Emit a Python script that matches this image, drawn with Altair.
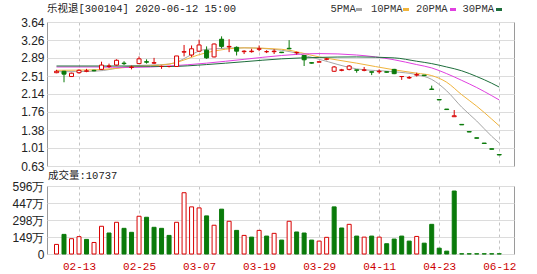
import json
import altair as alt
import pandas as pd

# ---------------- data ----------------
title_text = "乐视退[300104] 2020-06-12 15:00"
vol_title = "成交量:10737"

opens = [2.58, 2.61, 2.50, 2.58, 2.61, 2.63, 2.65, 2.71, 2.74, 2.78, 2.69, 2.77, 2.81, 2.78, 2.71, 2.71, 2.71, 3.01, 2.95, 3.03,
         3.05, 2.91, 3.28, 3.12, 3.11, 3.02, 3.02, 3.07, 3.02, 3.02, 3.01, 3.09, 3.00, 2.94, 2.79, 2.80, 2.86, 2.61, 2.63, 2.65,
         2.64, 2.63, 2.60, 2.60, 2.60, 2.65, 2.50, 2.47, 2.53, 2.53, 2.24, 2.02, 1.82, 1.66, 1.50, 1.35, 1.22, 1.11, 0.99, 0.87]
closes = [2.61, 2.55, 2.57, 2.63, 2.62, 2.62, 2.74, 2.72, 2.84, 2.77, 2.70, 2.87, 2.80, 2.79, 2.71, 2.71, 2.93, 3.02, 3.08, 3.16,
          2.89, 3.18, 3.13, 3.13, 3.03, 3.03, 3.03, 3.08, 3.02, 3.03, 3.00, 3.08, 3.00, 2.85, 2.78, 2.81, 2.87, 2.70, 2.64, 2.72,
          2.63, 2.64, 2.59, 2.61, 2.59, 2.56, 2.50, 2.48, 2.54, 2.52, 2.23, 2.01, 1.81, 1.68, 1.49, 1.34, 1.21, 1.10, 0.98, 0.86]
highs = [2.64, 2.62, 2.58, 2.65, 2.66, 2.64, 2.81, 2.77, 2.86, 2.82, 2.73, 2.92, 2.86, 2.89, 2.73, 2.72, 2.93, 3.16, 3.15, 3.27,
         3.13, 3.19, 3.34, 3.28, 3.13, 3.05, 3.08, 3.15, 3.05, 3.07, 3.01, 3.26, 3.02, 2.95, 2.80, 2.81, 2.89, 2.72, 2.66, 2.74,
         2.64, 2.70, 2.60, 2.65, 2.60, 2.66, 2.51, 2.51, 2.58, 2.53, 2.31, 2.02, 1.82, 1.80, 1.50, 1.35, 1.22, 1.11, 0.99, 0.87]
lows = [2.57, 2.38, 2.49, 2.56, 2.59, 2.61, 2.64, 2.68, 2.73, 2.74, 2.65, 2.76, 2.77, 2.76, 2.66, 2.69, 2.70, 2.92, 2.91, 3.02,
        2.87, 2.90, 3.09, 3.01, 2.94, 2.97, 3.00, 3.03, 2.99, 2.97, 2.99, 3.07, 2.96, 2.72, 2.77, 2.80, 2.84, 2.60, 2.61, 2.63,
        2.58, 2.61, 2.53, 2.56, 2.58, 2.55, 2.43, 2.45, 2.50, 2.51, 2.23, 2.01, 1.81, 1.66, 1.49, 1.34, 1.21, 1.10, 0.98, 0.86]

# volume in 万 shares
volumes = [84, 172, 134, 152, 128, 101, 243, 184, 278, 225, 190, 331, 322, 234, 225, 163, 278, 537, 413, 404,
           334, 252, 393, 287, 207, 163, 148, 207, 157, 181, 122, 287, 193, 184, 122, 113, 146, 413, 228, 260,
           157, 148, 157, 148, 90, 131, 157, 113, 154, 95, 260, 51, 25, 552, 2, 2, 2, 2, 2, 2]
vol_up = [1, 0, 1, 1, 0, 1, 1, 0, 1, 0, 0, 1, 0, 0, 0, 0, 1, 1, 1, 1,
          0, 1, 0, 1, 0, 1, 0, 1, 0, 1, 0, 1, 0, 0, 0, 1, 1, 0, 0, 1,
          0, 1, 0, 1, 0, 0, 0, 0, 1, 0, 0, 0, 0, 0, 0, 0, 0, 0, 0, 0]

tick_idx = [3, 11, 19, 27, 35, 43, 51, 59]
tick_labels = ["02-13", "02-25", "03-07", "03-19", "03-29", "04-11", "04-23", "06-12"]
price_ticks = [0.63, 1.01, 1.38, 1.76, 2.14, 2.51, 2.89, 3.26, 3.64]
vol_ticks = [0, 149, 298, 447, 596]

ma_idx = [0, 5, 10, 15, 20, 25, 30, 35, 40, 45, 48, 50, 52, 54, 56, 58, 59]
ma5 = [2.60, 2.61, 2.72, 2.76, 3.07, 3.10, 3.05, 2.86, 2.66, 2.60, 2.54, 2.44, 2.20, 1.86, 1.57, 1.25, 1.11]
ma10 = [2.63, 2.64, 2.70, 2.76, 3.00, 3.10, 3.07, 2.91, 2.78, 2.64, 2.57, 2.52, 2.38, 2.12, 1.88, 1.61, 1.47]
ma20 = [2.70, 2.70, 2.69, 2.72, 2.78, 2.86, 2.94, 2.98, 2.95, 2.85, 2.75, 2.68, 2.56, 2.42, 2.27, 2.10, 2.01]
ma30 = [2.72, 2.72, 2.72, 2.71, 2.75, 2.81, 2.87, 2.90, 2.91, 2.89, 2.82, 2.77, 2.70, 2.62, 2.50, 2.36, 2.28]
ma_names = ["5PMA", "10PMA", "20PMA", "30PMA"]
ma_colors = ["#a6a6a6", "#f0b43c", "#e040e0", "#1e6e3c"]

RED = "#d80000"
GREEN = "#0a7a0a"
TXT_FONT = "Liberation Mono, Noto Sans CJK SC"

# ---------------- frames ----------------
n = len(opens)
df = pd.DataFrame({
    "i": list(range(n)),
    "open": opens, "close": closes, "high": highs, "low": lows,
    "vol": volumes,
})
df["dir"] = ["up" if c >= o else "down" for o, c in zip(opens, closes)]
df["vdir"] = ["up" if u else "down" for u in vol_up]

ma_rows = []
for name, vals in zip(ma_names, [ma5, ma10, ma20, ma30]):
    for k, v in zip(ma_idx, vals):
        ma_rows.append({"i": k, "val": v, "ma": name})
ma_df = pd.DataFrame(ma_rows)

W = 467
H_TOP = 144
H_BOT = 68
XDOM = [-0.6, 60.3]

label_expr = json.dumps(tick_labels) + "[(datum.value - 3) / 8]"

x_top = alt.X("i:Q", scale=alt.Scale(domain=XDOM, nice=False, zero=False),
              axis=alt.Axis(values=tick_idx, labels=False, ticks=False, domain=False,
                            grid=True, gridDash=[3, 3], gridColor="#c4c4c4", title=None))
x_bot = alt.X("i:Q", scale=alt.Scale(domain=XDOM, nice=False, zero=False),
              axis=alt.Axis(values=tick_idx, labelExpr=label_expr, ticks=False, domain=False,
                            grid=True, gridDash=[3, 3], gridColor="#c4c4c4", title=None,
                            labelColor="#cc0000", labelFont=TXT_FONT, labelFontSize=11,
                            labelPadding=6))

y_price_scale = alt.Scale(domain=[0.63, 3.64], nice=False, zero=False)
y_price_axis = alt.Axis(values=price_ticks, format=".2f", grid=True, gridColor="#dcdcdc",
                        ticks=False, domain=False, labelPadding=3, minExtent=46, maxExtent=46,
                        title=None)

dir_stroke = alt.Stroke("dir:N", scale=alt.Scale(domain=["up", "down"], range=[RED, GREEN]), legend=None)
dir_fill = alt.Fill("dir:N", scale=alt.Scale(domain=["up", "down"], range=["#ffffff", GREEN]), legend=None)

base = alt.Chart(df)
wicks = base.mark_rule(strokeWidth=1).encode(
    x=x_top,
    y=alt.Y("low:Q", scale=y_price_scale, axis=y_price_axis),
    y2="high:Q",
    stroke=dir_stroke,
)
bodies = base.mark_bar(size=4, strokeWidth=1).encode(
    x=x_top,
    y=alt.Y("open:Q", scale=y_price_scale, axis=y_price_axis),
    y2="close:Q",
    fill=dir_fill,
    stroke=dir_stroke,
)
ma_lines = alt.Chart(ma_df).mark_line(strokeWidth=1, interpolate="monotone").encode(
    x=x_top,
    y=alt.Y("val:Q", scale=y_price_scale, axis=y_price_axis),
    color=alt.Color("ma:N", scale=alt.Scale(domain=ma_names, range=ma_colors), legend=None),
    detail="ma:N",
)

# header line: title at left, legend (label then colored dash) at right
header_layers = [
    alt.Chart(pd.DataFrame({"t": [title_text]})).mark_text(
        align="left", baseline="middle", font=TXT_FONT, fontSize=10.5, color="#222222"
    ).encode(text="t:N", x=alt.value(0), y=alt.value(-13))
]
leg_text_x = [283.5, 324.0, 369.0, 415.5]
leg_dash_x = [309.0, 356.0, 403.0, 449.0]
for name, col, tx, dx in zip(ma_names, ma_colors, leg_text_x, leg_dash_x):
    header_layers.append(
        alt.Chart(pd.DataFrame({"t": [name]})).mark_text(
            align="left", baseline="middle", font=TXT_FONT, fontSize=10.5, color="#333333"
        ).encode(text="t:N", x=alt.value(tx), y=alt.value(-13))
    )
    header_layers.append(
        alt.Chart(pd.DataFrame({"t": [name]})).mark_rule(
            strokeWidth=3, color=col
        ).encode(x=alt.value(dx), x2=alt.value(dx + 6), y=alt.value(-12.5))
    )

upper = alt.layer(ma_lines, wicks, bodies, *header_layers).properties(
    width=W, height=H_TOP,
)

vol_stroke = alt.Stroke("vdir:N", scale=alt.Scale(domain=["up", "down"], range=[RED, GREEN]), legend=None)
vol_fill = alt.Fill("vdir:N", scale=alt.Scale(domain=["up", "down"], range=["#ffffff", GREEN]), legend=None)
vol_bars = base.mark_bar(size=4, strokeWidth=1).encode(
    x=x_bot,
    y=alt.Y("vol:Q", scale=alt.Scale(domain=[0, 596], nice=False),
            axis=alt.Axis(values=vol_ticks,
                          labelExpr="datum.value == 0 ? '0' : datum.value + '万'",
                          grid=True, gridColor="#dcdcdc", ticks=False, domain=False,
                          labelPadding=3, minExtent=46, maxExtent=46, title=None)),
    fill=vol_fill,
    stroke=vol_stroke,
)
vol_label = alt.Chart(pd.DataFrame({"t": [vol_title]})).mark_text(
    align="left", baseline="middle", font=TXT_FONT, fontSize=10.5, color="#222222"
).encode(text="t:N", x=alt.value(1), y=alt.value(-10))

lower = alt.layer(vol_bars, vol_label).properties(width=W, height=H_BOT)

chart = alt.vconcat(upper, lower, spacing=20, bounds="flush").properties(
    padding={"left": 0, "top": 3, "right": 0, "bottom": 0},
    background="#ffffff",
).configure_view(
    stroke="#9a9a9a", strokeWidth=1
).configure_axis(
    labelFont="Liberation Sans", labelFontSize=12, labelColor="#222222"
)

chart.save("out.html", embed_options={"renderer": "svg", "actions": False})
